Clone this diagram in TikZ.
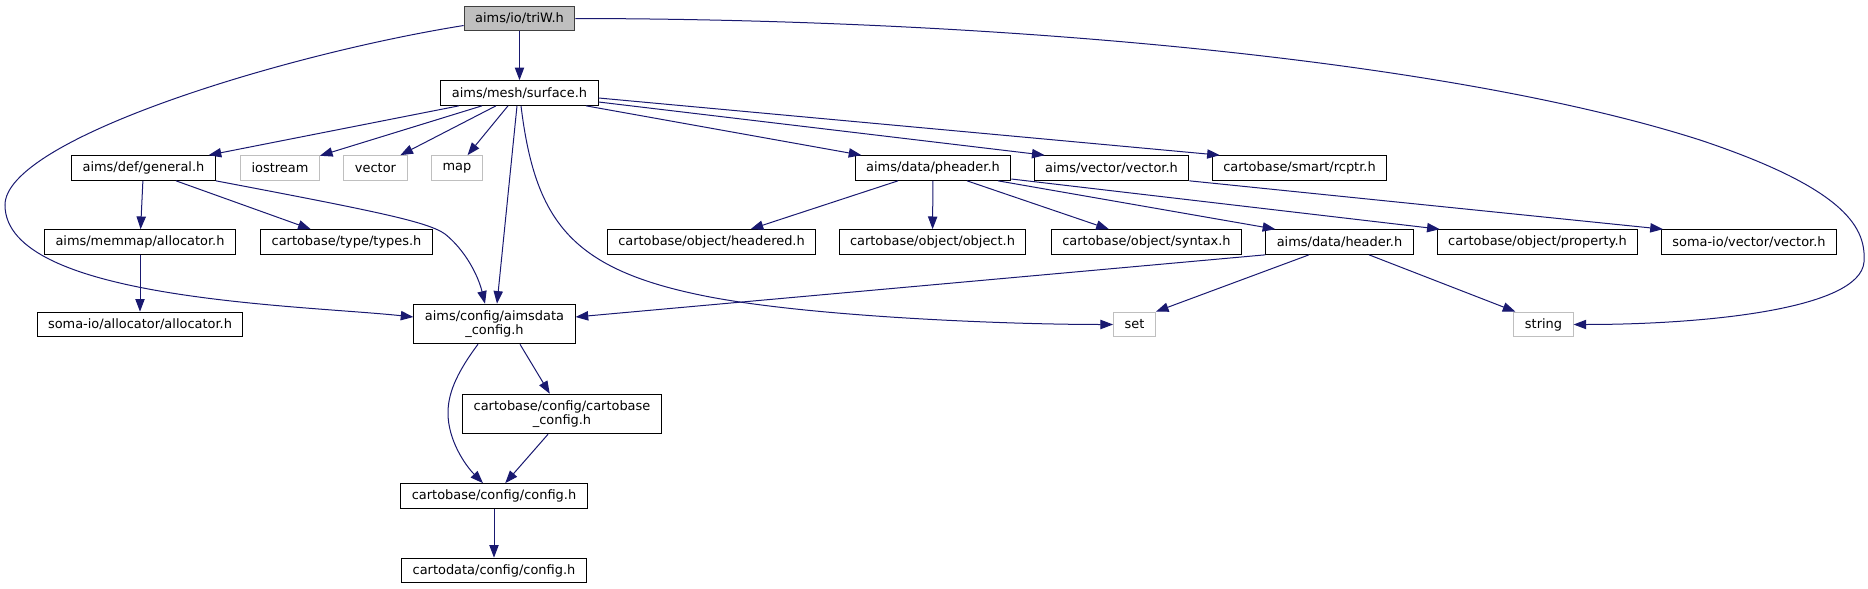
\documentclass[tikz,border=0pt]{standalone}
\usepackage{fontspec}
\setmainfont{DejaVu Sans}
\usetikzlibrary{arrows.meta,calc}
\definecolor{edgeblue}{HTML}{191970}
\definecolor{grey75}{HTML}{BFBFBF}

\begin{document}
\begin{tikzpicture}[x=0.75pt,y=-0.75pt,
    file/.style={draw=black,line width=0.75pt,inner xsep=8.25pt,inner ysep=4.5pt,minimum height=18.5pt,font=\fontsize{9.7}{11}\selectfont,align=center},
    sys/.style={file,draw=grey75},
    self/.style={file,draw=black!75,fill=grey75},
    edge/.style={draw=edgeblue,line width=0.75pt,-{Triangle[length=9.5pt,width=7pt]}}]
    \useasboundingbox (0,0) rectangle (1868,589);
    % top rows
    \node[self] (triW) at (519.5,18.5) {aims/io/triW.h};
    \node[file] (surface) at (519.5,93) {aims/mesh/surface.h};
    \node[file] (general) at (143.5,168) {aims/def/general.h};
    \node[sys] (iostream) at (280,168) {iostream};
    \node[sys] (vector) at (375.5,168) {vector};
    \node[sys] (map) at (457,168) {map};
    \node[file] (pheader) at (933,168) {aims/data/pheader.h};
    \node[file] (avector) at (1111.5,168) {aims/vector/vector.h};
    \node[file] (rcptr) at (1299.5,168) {cartobase/smart/rcptr.h};
    \node[file] (memalloc) at (140,242) {aims/memmap/allocator.h};
    \node[file] (types) at (346.5,242) {cartobase/type/types.h};
    \node[file] (headered) at (711.5,242) {cartobase/object/headered.h};
    \node[file] (object) at (932.5,242) {cartobase/object/object.h};
    \node[file] (syntax) at (1146.5,242) {cartobase/object/syntax.h};
    \node[file] (header) at (1339.5,242) {aims/data/header.h};
    \node[file] (property) at (1537.5,242) {cartobase/object/property.h};
    \node[file] (svector) at (1749,242) {soma-io/vector/vector.h};
    % lower part
    \node[file] (salloc) at (140,324.5) {soma-io/allocator/allocator.h};
    \node[file] (aimsdata) at (494.5,324) {aims/config/aimsdata\\\_config.h};
    \node[sys] (set) at (1134.5,324.5) {set};
    \node[sys] (string) at (1543.5,324.5) {string};
    \node[file] (cbconfig) at (562,414) {cartobase/config/cartobase\\\_config.h};
    \node[file] (config) at (494,496) {cartobase/config/config.h};
    \node[file] (cdconfig) at (494,570.5) {cartodata/config/config.h};

    \foreach \a/\b in {triW/surface,general/memalloc,memalloc/salloc,pheader/object,config/cdconfig}
        \draw[edge] (\a) -- (\b);
    \draw[edge] ($(triW.west)+(0,7)$) .. controls (280,55) and (5,140) .. (5,205) .. controls (5,300) and (300,305) .. ($(aimsdata.west)+(0,-7)$);
    \draw[edge] (triW.east) .. controls (1000,19) and (1450,60) .. (1700,140) .. controls (1850,190) and (1866,230) .. (1864,262) .. controls (1860,310) and (1700,324.5) .. (string.east);
    \draw[edge] ($(surface.south)+(-60.5,0)$) -- (general);
    \draw[edge] ($(surface.south)+(-37.5,0)$) -- (iostream);
    \draw[edge] ($(surface.south)+(-23.5,0)$) -- (vector);
    \draw[edge] ($(surface.south)+(-11.5,0)$) -- (map);
    \draw[edge] ($(surface.south)+(-2.5,0)$) -- ($(aimsdata.north)+(2.5,0)$);
    \draw[edge] ($(surface.south)+(1.5,0)$) .. controls (535,220) and (570,268) .. (700,295) .. controls (800,316) and (1000,324.5) .. (set.west);
    \draw[edge] ($(surface.south)+(66.5,0)$) -- (pheader);
    \draw[edge] ($(surface.east)+(0,9)$) -- ($(avector.north west)+(11,0)$);
    \draw[edge] ($(surface.east)+(0,5)$) -- ($(rcptr.north west)+(8,0)$);
    \draw[edge] ($(general.south)+(32.5,0)$) -- (types);
    \draw[edge] (general.south east) .. controls (380,212) and (428,222) .. (445,234) .. controls (465,250) and (478,275) .. ($(aimsdata.north)+(-9.5,0)$);
    \draw[edge] ($(pheader.south)+(-35,0)$) -- (headered);
    \draw[edge] ($(pheader.south)+(34,0)$) -- (syntax);
    \draw[edge] ($(pheader.south)+(65,0)$) -- ($(header.north west)+(10,0)$);
    \draw[edge] ($(pheader.east)+(0,11)$) -- ($(property.north west)+(3,0)$);
    \draw[edge] (avector.south east) -- ($(svector.north west)+(2,0)$);
    \draw[edge] (header.south west) -- ($(aimsdata.east)+(0,-7)$);
    \draw[edge] ($(header.south)+(-30.5,0)$) -- (set.north east);
    \draw[edge] ($(header.south)+(29.5,0)$) -- ($(string.north west)+(2,0)$);
    \draw[edge] ($(aimsdata.south)+(25.5,0)$) -- (cbconfig);
    \draw[edge] ($(aimsdata.south)+(-16.5,0)$) .. controls (455,375) and (448,395) .. (448,413) .. controls (448,440) and (465,465) .. ($(config.north)+(-11,0)$);
    \draw[edge] ($(cbconfig.south)+(-14,0)$) -- (config);
\end{tikzpicture}
\end{document}
